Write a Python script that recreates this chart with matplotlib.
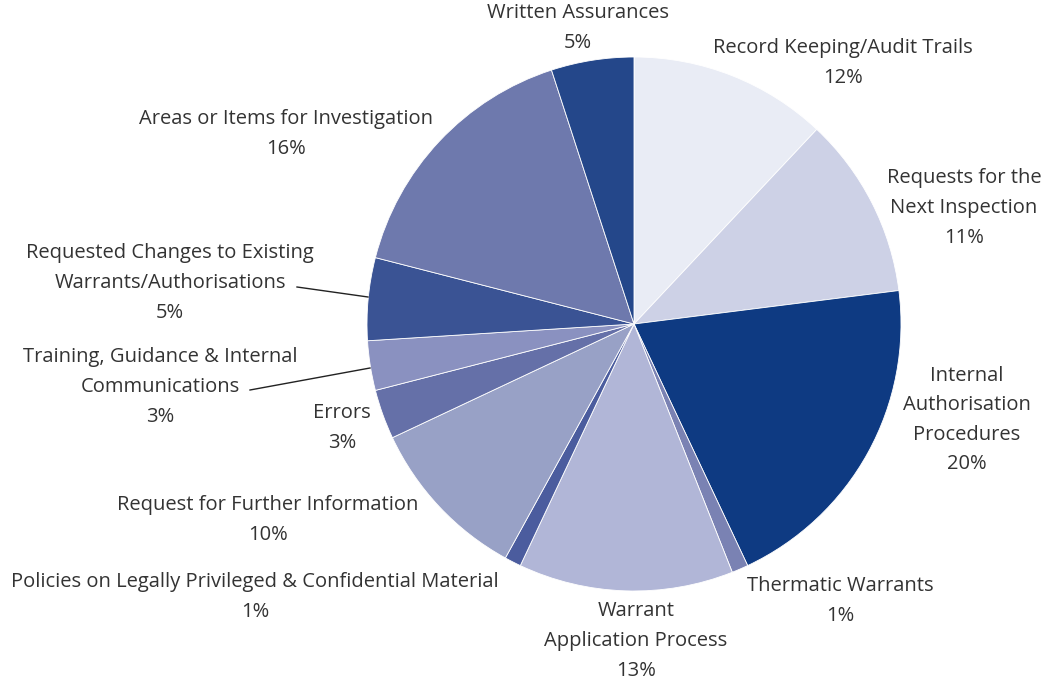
import matplotlib.pyplot as plt

labels = [
    "Record Keeping/Audit Trails",
    "Requests for the\nNext Inspection",
    "Internal\nAuthorisation\nProcedures",
    "Thermatic Warrants",
    "Warrant\nApplication Process",
    "Policies on Legally Privileged & Confidential Material",
    "Request for Further Information",
    "Errors",
    "Training, Guidance & Internal\nCommunications",
    "Requested Changes to Existing\nWarrants/Authorisations",
    "Areas or Items for Investigation",
    "Written Assurances",
]
values = [12, 11, 20, 1, 13, 1, 10, 3, 3, 5, 16, 5]
colors = ["#E9ECF5", "#CDD1E6", "#0E3A82", "#7A82B3", "#B1B6D7", "#4B5C9E",
          "#98A1C6", "#6570A8", "#8A91C0", "#3A5394", "#6E79AD", "#24478A"]

# label centres in image pixels (pie centre 634,324, radius 267)
label_px = [(843, 63), (964, 208), (967, 420), (840, 601), (636, 641), (255, 597),
            (268, 520), (342, 428), (160, 387), (170, 283), (286, 134), (578, 28)]

W, H = 1043, 681
cx, cy, r = 634, 324, 267

plt.rcParams['font.family'] = ['Open Sans', 'DejaVu Sans']
fig = plt.figure(figsize=(W / 100, H / 100), dpi=100)
ax = fig.add_axes([(cx - r) / W, 1 - (cy + r) / H, 2 * r / W, 2 * r / H])
ax.pie(values, colors=colors, startangle=90, counterclock=False, radius=1,
       wedgeprops=dict(edgecolor='white', linewidth=0.6))
ax.set_xlim(-1, 1)
ax.set_ylim(-1, 1)
ax.set_aspect('equal')
ax.axis('off')


def to_data(px, py):
    return (px - cx) / r, (cy - py) / r


for lab, v, (px, py) in zip(labels, values, label_px):
    x, y = to_data(px, py)
    ax.text(x, y, f"{lab}\n{v}%", ha='center', va='center', fontsize=14.5,
            color='#333333', linespacing=1.64, clip_on=False)

# leader lines
for (x0, y0), (x1, y1) in [((297, 287), (368, 297)), ((250, 390), (370, 368))]:
    a, b = to_data(x0, y0)
    c, d = to_data(x1, y1)
    ax.plot([a, c], [b, d], color='#222222', linewidth=1, clip_on=False)

fig.savefig('out.png', dpi=100)
